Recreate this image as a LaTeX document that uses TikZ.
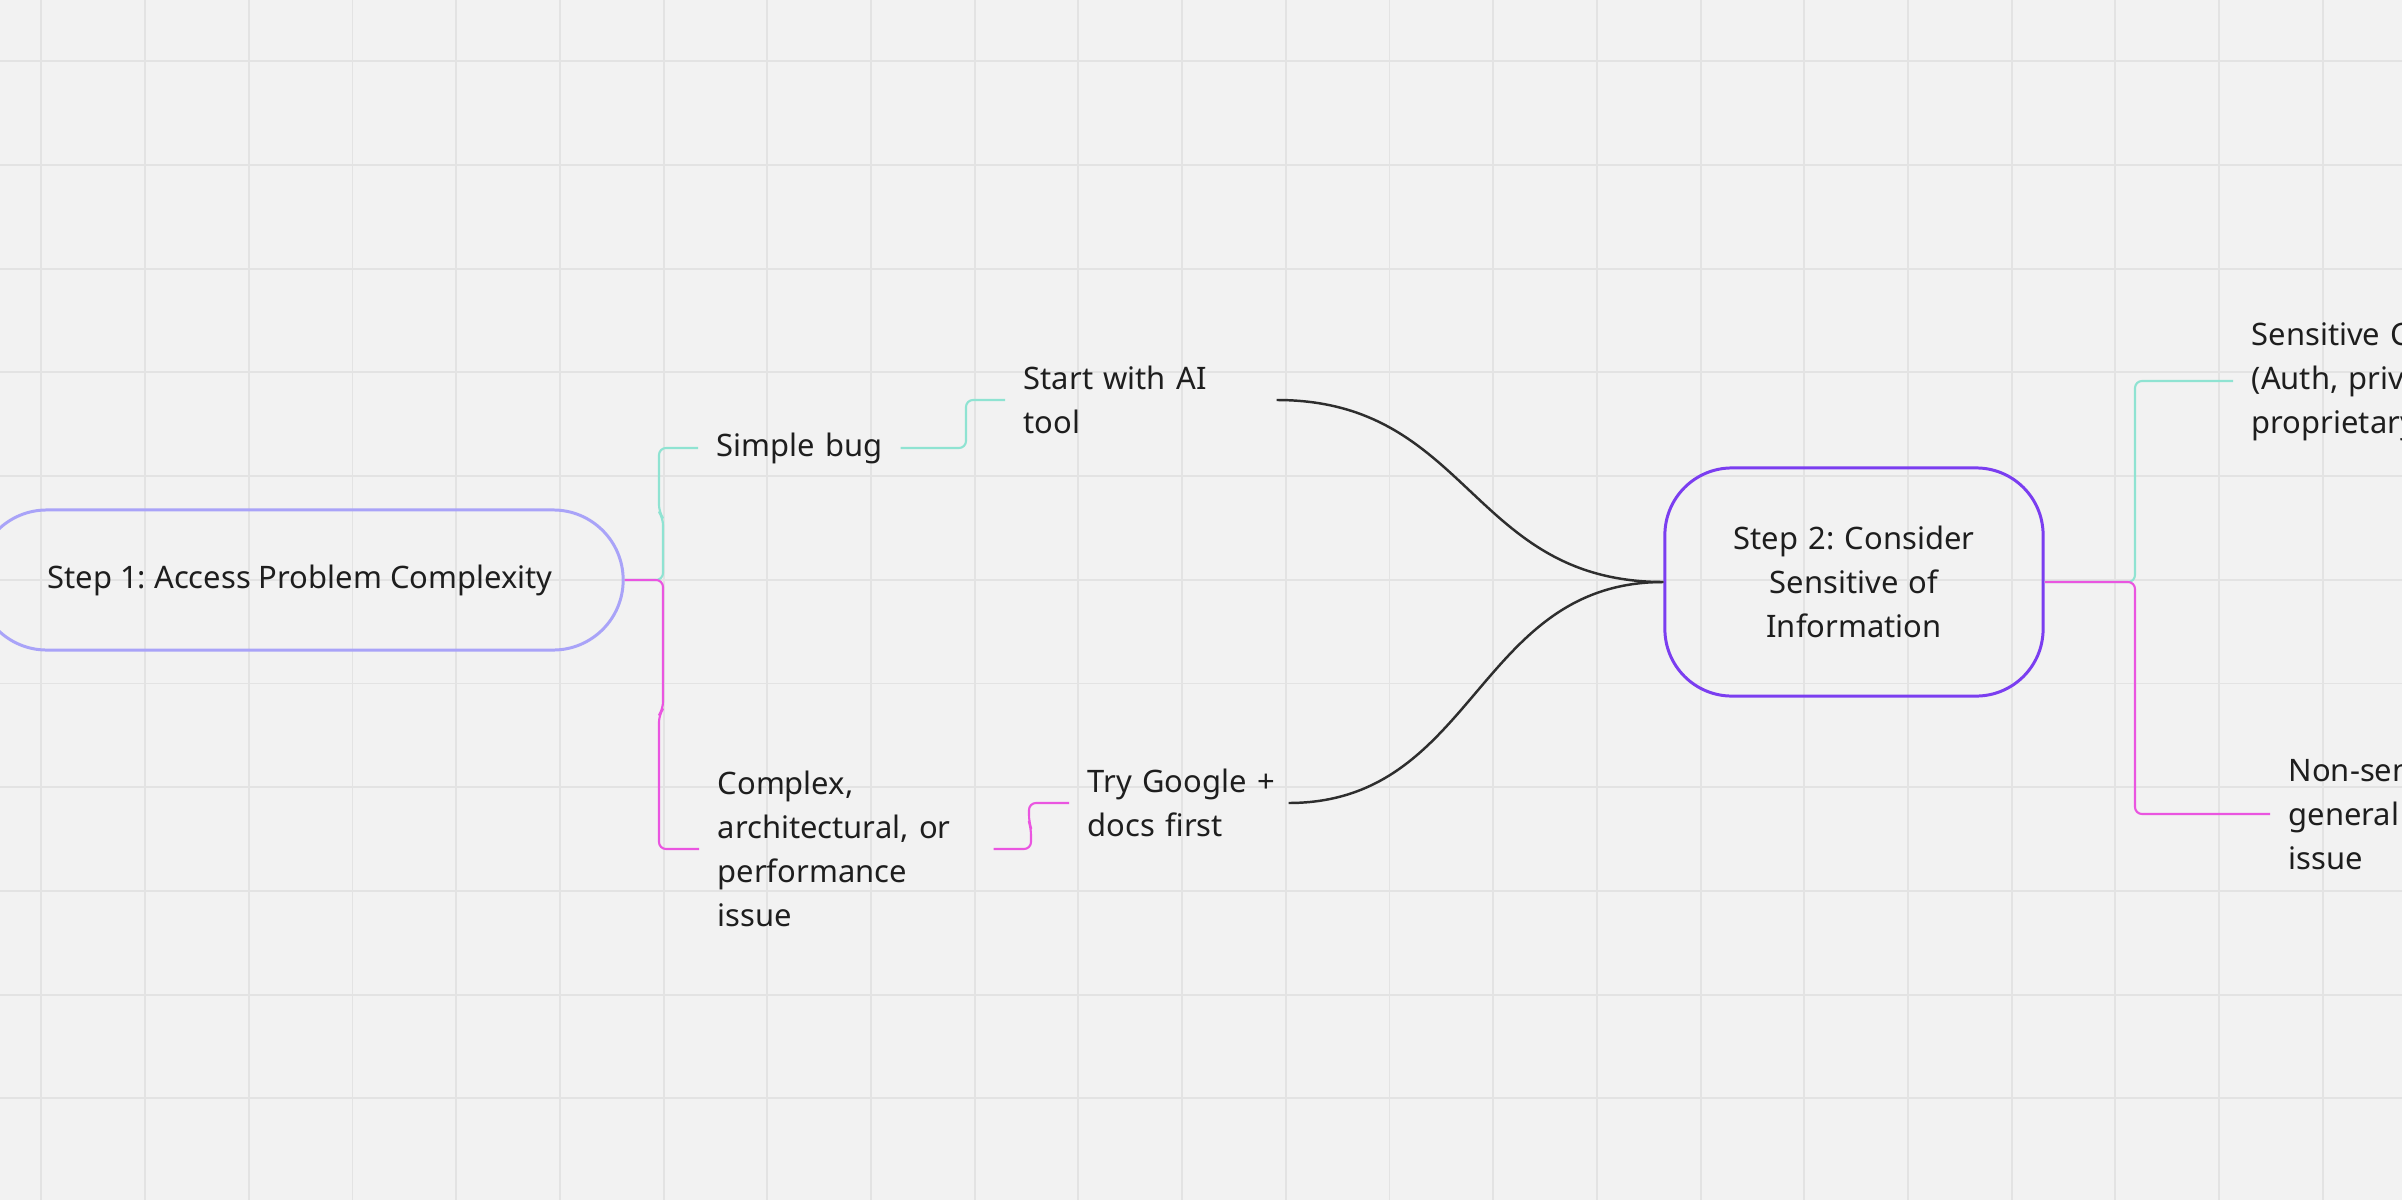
\documentclass[tikz,border=0pt]{standalone}
\usepackage{fontspec}
\setmainfont{Noto Sans}
\usepackage{tikz}
\usetikzlibrary{arrows}
\definecolor{canvas}{HTML}{F2F2F2}
\definecolor{gridline}{HTML}{E3E3E3}
\definecolor{ink}{HTML}{1E1E1E}
\definecolor{linkdark}{HTML}{2E2E2E}
\definecolor{branchteal}{HTML}{8FE3D2}
\definecolor{branchpink}{HTML}{EA55E0}
\definecolor{stepone}{HTML}{A9A3F8}
\definecolor{steptwo}{HTML}{7B3EF0}
\frenchspacing

\begin{document}
\begin{tikzpicture}[x=0.01cm, y=-0.01cm, line join=round,
  every node/.style={font=\fontsize{8.8}{12.5}\selectfont, text=ink},
  topic/.style={anchor=west, align=left, inner xsep=0.18cm, inner ysep=0pt},
  stepbox/.style={draw, rectangle, line width=0.85pt, align=center},
  tealbranch/.style={draw=branchteal, line width=0.6pt, rounded corners=0.07cm},
  pinkbranch/.style={draw=branchpink, line width=0.6pt, rounded corners=0.07cm},
  link/.style={draw=linkdark, line width=0.7pt},]
%%
\useasboundingbox (0,0) rectangle (2402,1200);
\clip (0,0) rectangle (2402,1200);
\fill [canvas] (0,0) rectangle (2402,1200);
\foreach \gx in {0,...,22}
  \draw [gridline, line width=0.55pt] (41.4+\gx*103.7,0) -- ++(0,1200);
\foreach \gy in {0,...,10}
  \draw [gridline, line width=0.55pt] (0,61.3+\gy*103.7) -- ++(2402,0);
%%
\node (step_complexity) at (300,580)
  [stepbox,draw=stepone,rounded corners=0.7cm,minimum width=6.46cm,minimum height=1.4cm] {Step~1:~Access~Problem~Complexity};
\node (case_simple-bug) at (698,448)
  [topic,text width=1.65cm] {Simple~bug};
\node (act_ai-tool) at (1005,400)
  [topic,text width=2.34cm] {Start~with~AI\\tool};
\node (case_complex) at (699,849)
  [topic,text width=2.57cm] {Complex,\\architectural,~or\\performance\\issue};
\node (act_google-docs) at (1069,803)
  [topic,text width=1.82cm] {Try~Google~+\\docs~first};
\node (step_sensitivity) at (1854,582)
  [stepbox,draw=steptwo,rounded corners=0.67cm,minimum width=3.78cm,minimum height=2.28cm,text width=2.8cm] {Step~2:~Consider\\Sensitive~of\\Information};
\node (case_sensitive) at (2233,381)
  [topic,text width=2.6cm] {Sensitive~Code\\(Auth,~private,\\proprietary)};
\node (case_non-sensitive) at (2270,814)
  [topic,text width=2.6cm] {Non-sensitive\\general\\issue};

\draw [tealbranch]
  (step_complexity.east) -- (663,580) -- (663,518) -- (659,512) -- (659,448)
  -- (case_simple-bug.west);
\draw [pinkbranch]
  (step_complexity.east) -- (663,580) -- (663,709) -- (659,715) -- (659,849)
  -- (case_complex.west);

\draw [tealbranch]
  (case_simple-bug.east) -- (966,448) -- (966,400) -- (act_ai-tool.west);
\draw [pinkbranch]
  (case_complex.east) -- (1031,849) -- (1031,828) -- (1029,822) -- (1029,803)
  -- (act_google-docs.west);

\draw [link]
  (act_ai-tool.east) .. controls (1470,400) and (1470,582)
  .. (step_sensitivity.west);
\draw [link]
  (act_google-docs.east) .. controls (1476,803) and (1476,582)
  .. (step_sensitivity.west);

\draw [tealbranch]
  (step_sensitivity.east) -- (2135,582) -- (2135,381) -- (case_sensitive.west);
\draw [pinkbranch]
  (step_sensitivity.east) -- (2135,582) -- (2135,814) -- (case_non-sensitive.west);
\end{tikzpicture}
\end{document}
